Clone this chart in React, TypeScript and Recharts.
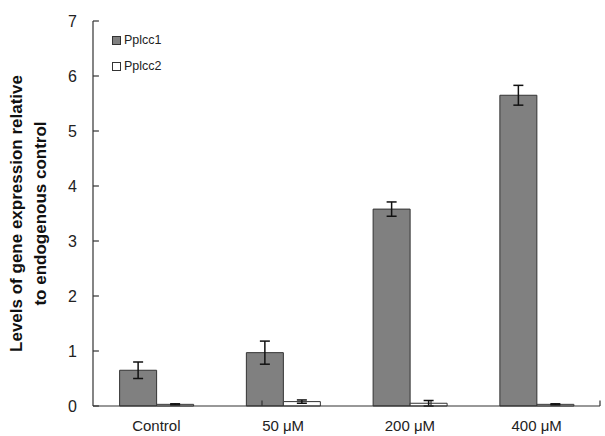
import { BarChart, Bar, XAxis, YAxis, ErrorBar, ReferenceLine } from "recharts";

const categories = ["Control", "50 μM", "200 μM", "400 μM"];
const pplcc1 = [0.65, 0.97, 3.58, 5.65];
const pplcc1Err = [0.15, 0.21, 0.13, 0.18];
const pplcc2 = [0.03, 0.08, 0.05, 0.03];
const pplcc2Err = [0.01, 0.03, 0.05, 0.01];
const yTicks = [0, 1, 2, 3, 4, 5, 6, 7];
const boundaryTicks = [1, 2, 3, 4];

const data = categories.map((c, i) => ({
  name: c,
  pplcc1: pplcc1[i],
  e1: pplcc1Err[i],
  pplcc2: pplcc2[i],
  e2: pplcc2Err[i],
}));

const font = "'Liberation Sans', Arial, sans-serif";
const axisColor = "#333";

function LegendBox() {
  const items = [
    { label: "Pplcc1", fill: "#808080" },
    { label: "Pplcc2", fill: "#ffffff" },
  ];
  return (
    <div
      style={{
        position: "absolute",
        left: 112,
        top: 27,
        fontFamily: font,
        fontSize: 12.5,
        color: "#222",
      }}
    >
      {items.map((it) => (
        <div key={it.label} style={{ display: "flex", alignItems: "center", height: 26 }}>
          <span
            style={{
              width: 7,
              height: 7,
              background: it.fill,
              border: "1px solid #333",
              marginRight: 3,
              display: "inline-block",
            }}
          />
          {it.label}
        </div>
      ))}
    </div>
  );
}

export default function App() {
  return (
    <div
      style={{
        position: "absolute",
        left: 0,
        top: 0,
        width: 605,
        height: 436,
        background: "#fff",
        overflow: "hidden",
      }}
    >
      <BarChart
        width={605}
        height={436}
        data={data}
        margin={{ top: 21, right: 5, bottom: 0, left: 0 }}
        barCategoryGap="21%"
        barGap={0}
      >
        <XAxis
          xAxisId="cat"
          dataKey="name"
          height={30}
          tickLine={false}
          tickSize={0}
          tickMargin={14}
          axisLine={{ stroke: axisColor, strokeWidth: 1.2 }}
          tick={{ fill: "#222", fontSize: 15, fontFamily: font }}
        />
        <XAxis xAxisId="edge" type="number" domain={[0, 4]} hide />
        <YAxis
          yAxisId="main"
          domain={[0, 7]}
          ticks={yTicks}
          width={93}
          tickLine={false}
          tickSize={0}
          tickMargin={16}
          axisLine={{ stroke: axisColor, strokeWidth: 1.2 }}
          tick={{ fill: "#222", fontSize: 16, fontFamily: font }}
          label={(props: any) => {
            const vb = props.viewBox || {};
            const cy = (vb.y ?? 21) + (vb.height ?? 385) / 2;
            return (
              <text
                transform={`rotate(-90, 0, ${cy})`}
                x={0}
                y={cy}
                textAnchor="middle"
                fontFamily={font}
                fontWeight="bold"
                fontSize={17}
                fill="#111"
              >
                <tspan x={0} dy={22}>Levels of gene expression relative</tspan>
                <tspan x={0} dy={24}>to endogenous control</tspan>
              </text>
            );
          }}
        />
        {yTicks.map((v) => (
          <ReferenceLine
            key={`y${v}`}
            xAxisId="edge"
            yAxisId="main"
            segment={[
              { x: 0, y: v },
              { x: 0.035, y: v },
            ]}
            stroke={axisColor}
            strokeWidth={1.2}
            ifOverflow="visible"
          />
        ))}
        {boundaryTicks.map((v) => (
          <ReferenceLine
            key={`x${v}`}
            xAxisId="edge"
            yAxisId="main"
            segment={[
              { x: v, y: 0 },
              { x: v, y: 0.1 },
            ]}
            stroke={axisColor}
            strokeWidth={1.2}
            ifOverflow="visible"
          />
        ))}
        <Bar
          xAxisId="cat"
          yAxisId="main"
          dataKey="pplcc1"
          fill="#808080"
          stroke="#333"
          strokeWidth={1}
          isAnimationActive={false}
        >
          <ErrorBar dataKey="e1" width={5} stroke="#111" strokeWidth={1.5} />
        </Bar>
        <Bar
          xAxisId="cat"
          yAxisId="main"
          dataKey="pplcc2"
          fill="#ffffff"
          stroke="#333"
          strokeWidth={1}
          isAnimationActive={false}
        >
          <ErrorBar dataKey="e2" width={5} stroke="#111" strokeWidth={1.5} />
        </Bar>
      </BarChart>
      <LegendBox />
    </div>
  );
}
